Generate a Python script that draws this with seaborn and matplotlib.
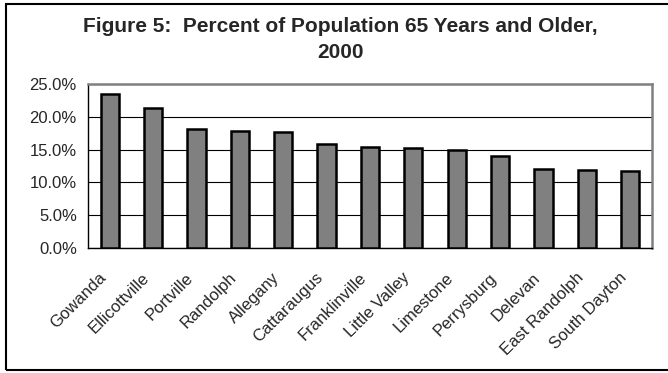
import pandas as pd
import seaborn as sns
import matplotlib.pyplot as plt
from matplotlib.patches import Rectangle
from matplotlib.ticker import PercentFormatter, FixedLocator
from matplotlib.transforms import ScaledTranslation

# values
towns = ["Gowanda", "Ellicottville", "Portville", "Randolph", "Allegany",
         "Cattaraugus", "Franklinville", "Little Valley", "Limestone",
         "Perrysburg", "Delevan", "East Randolph", "South Dayton"]
pct_65_older = [23.5, 21.4, 18.1, 17.8, 17.7, 15.9, 15.4, 15.2, 14.9,
                14.0, 12.1, 11.9, 11.7]

data = pd.DataFrame({"town": towns, "pct": pct_65_older})

sns.set_style("white")
plt.rcParams["font.family"] = ["Liberation Sans", "DejaVu Sans"]

fig = plt.figure(figsize=(6.68, 3.73), dpi=100)
ax = fig.add_axes([0.1317, 0.3359, 0.8443, 0.4381])

sns.barplot(x="town", y="pct", data=data, color="#808080", width=0.42,
            edgecolor="black", linewidth=1.8, saturation=1, ax=ax, zorder=3)

ax.set_ylim(0, 25)
ax.set_yticks([0, 5, 10, 15, 20, 25])
ax.yaxis.set_major_formatter(PercentFormatter(decimals=1))
ax.grid(axis="y", color="black", linewidth=0.8, zorder=0)
ax.set_xlim(-0.5, len(towns) - 0.5)

# tick marks between the categories, labels under the bars
ax.set_xticks(range(len(towns)))
ax.set_xticklabels(towns, rotation=45, ha="right", va="center",
                   rotation_mode="anchor", fontsize=12)
ax.tick_params(axis="x", length=0, pad=20)
shift = ScaledTranslation(-6 / 100, 0, fig.dpi_scale_trans)
for lab in ax.get_xticklabels():
    lab.set_transform(lab.get_transform() + shift)
ax.xaxis.set_minor_locator(FixedLocator([i - 0.5 for i in range(len(towns) + 1)]))
ax.tick_params(axis="x", which="minor", length=5, width=1, color="black",
               direction="out")
ax.tick_params(axis="y", length=5, width=1, color="black", direction="out",
               labelsize=12, pad=3)

ax.set_xlabel("")
ax.set_ylabel("")
for side in ["left", "bottom"]:
    ax.spines[side].set_color("black")
    ax.spines[side].set_linewidth(1)
for side in ["top", "right"]:
    ax.spines[side].set_color("#808080")
    ax.spines[side].set_linewidth(1.8)

fig.text(0.509, 0.928, "Figure 5:  Percent of Population 65 Years and Older,",
         ha="center", va="center", fontsize=15, fontweight="bold")
fig.text(0.509, 0.858, "2000", ha="center", va="center", fontsize=15,
         fontweight="bold")

# outer chart frame (its right edge is cut off in the reference)
fig.patches.append(Rectangle((0.0095, 0.008), 1.2, 0.981, transform=fig.transFigure,
                             fill=False, edgecolor="black", linewidth=1.5))

fig.savefig("out.png", dpi=100)
